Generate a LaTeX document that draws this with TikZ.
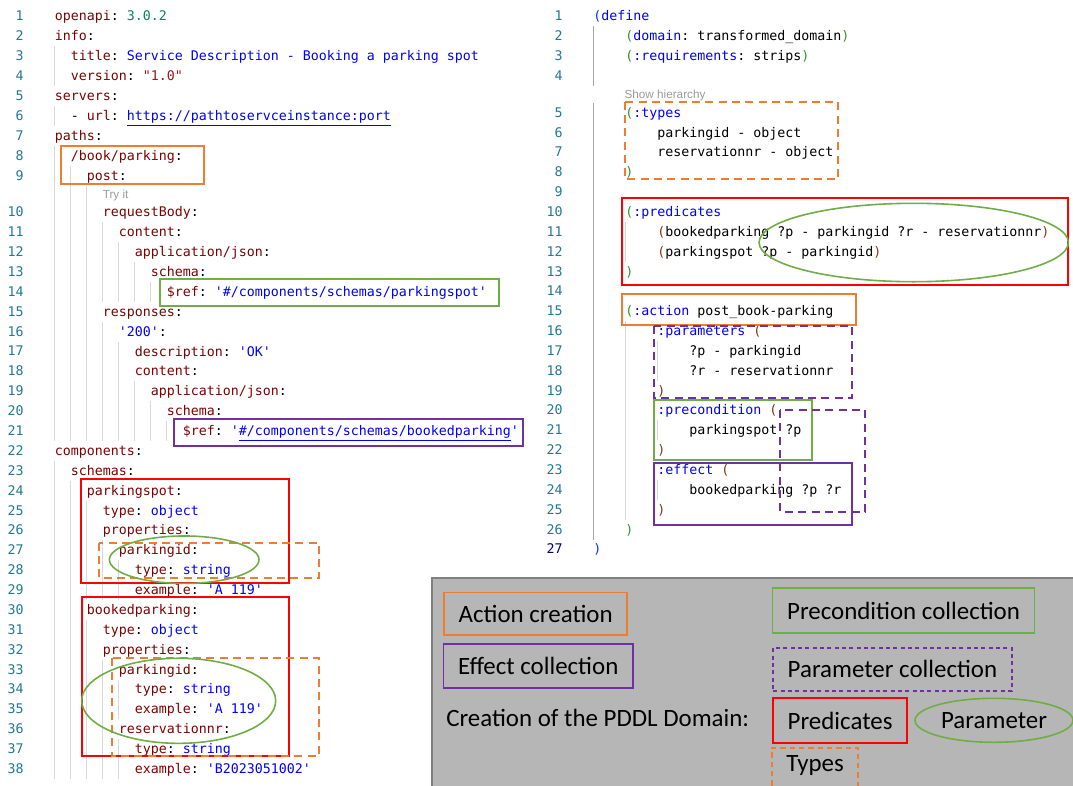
\documentclass[tikz,border=0pt]{standalone}
\usepackage{fontspec}
\usetikzlibrary{shapes.geometric}
\setmonofont{DejaVu Sans Mono}
\newfontfamily\legfamily{Carlito}
\newfontfamily\uifont{Liberation Sans}
\newcommand{\codesize}{\fontsize{9.97}{12}\selectfont}
\newcommand{\legfont}{\legfamily\fontsize{18.7}{22}\selectfont}

\definecolor{ykey}{HTML}{800000}
\definecolor{yval}{HTML}{0000FF}
\definecolor{ystr}{HTML}{A31515}
\definecolor{ynum}{HTML}{098658}
\definecolor{lncol}{HTML}{237893}
\definecolor{bra}{HTML}{0431FA}
\definecolor{brb}{HTML}{319331}
\definecolor{brc}{HTML}{7B3814}
\definecolor{hintgray}{HTML}{9A9A9A}
\definecolor{guidegray}{HTML}{D9D9D9}
\definecolor{porange}{HTML}{ED7D31}
\definecolor{pgreen}{HTML}{70AD47}
\definecolor{ppurple}{HTML}{7030A0}
\definecolor{pred}{HTML}{FF0000}
\definecolor{leggray}{HTML}{B6B6B6}

% yaml and pddl colouring
\newcommand{\yk}[1]{\textcolor{ykey}{#1}}
\newcommand{\yv}[1]{\textcolor{yval}{#1}}
\newcommand{\pk}[1]{\textcolor{yval}{#1}}
\newcommand{\bA}[1]{\textcolor{bra}{#1}}
\newcommand{\bB}[1]{\textcolor{brb}{#1}}
\newcommand{\bC}[1]{\textcolor{brc}{#1}}

\begin{document}
\begin{tikzpicture}[x=0.75pt,y=-0.75pt,
    code/.style={anchor=base west,inner sep=0pt,font=\codesize\ttfamily},
    lnum/.style={anchor=base east,inner sep=0pt,font=\codesize\ttfamily,text=lncol},
    hint/.style={anchor=base west,inner sep=0pt,font=\uifont\fontsize{8.8}{10}\selectfont,text=hintgray},
    guide/.style={draw=guidegray,line width=0.75pt},
    hl/.style={line width=1.5pt},
    hldash/.style={hl,dash pattern=on 6pt off 4pt},
    legbox/.style={draw,line width=1.3pt,font=\legfont,inner xsep=10.9pt,minimum height=33pt,anchor=west}]

    \useasboundingbox (0,0) rectangle (1073,785);

    % indent guides
    \foreach \x/\a/\b in {54.5/46/86, 54.5/106/126, 54.5/146/440.9, 54.5/460.8/778.9,
                          70.5/166/440.9, 70.5/480.7/778.9,
                          86.5/186/440.9, 86.5/500.6/600, 86.5/619.8/778.9,
                          102.5/222.2/301.8, 102.5/321.6/440.9, 102.5/540.3/600, 102.5/659.6/778.9,
                          118.5/242.1/301.8, 118.5/341.5/440.9, 118.5/560.2/600, 118.5/679.5/719.2, 118.5/739.1/778.9,
                          134.5/262/301.8, 134.5/381.3/440.9,
                          150.5/281.9/301.8, 150.5/401.2/440.9,
                          166.5/421/440.9,
                          625/221.9/261.6, 625/321.1/519.6,
                          657/341/380.7, 657/420.4/440.2, 657/480/499.8}
        \draw[guide] (\x,\a) -- (\x,\b);
    \draw[guide,draw=gray!70] (593,25.9) -- (593,85.5);
    \draw[guide,draw=gray!70] (593,102.8) -- (593,539.5);

    % line numbers
    \foreach \n in {1,...,9} \node[lnum] (nl\n) at (24,{20.5+(\n-1)*20}) {\n};
    \foreach \n in {10,...,38} \node[lnum] (nl\n) at (24,{216.8+(\n-10)*19.88}) {\n};
    \foreach \n in {1,...,4} \node[lnum] (nr\n) at (563,{20.5+(\n-1)*19.85}) {\n};
    \foreach \n in {5,...,26} \node[lnum] (nr\n) at (563,{117.2+(\n-5)*19.85}) {\n};
    \node[lnum,text=blue!45!black] (nr27) at (563,553.9) {27};

    % openapi file
    \node[code] (l1) at (54.5,20.5) {\yk{openapi}: \textcolor{ynum}{3.0.2}};
    \node[code] (l2) at (54.5,40.5) {\yk{info}:};
    \node[code] (l3) at (70.5,60.5) {\yk{title}: \yv{Service Description - Booking a parking spot}};
    \node[code] (l4) at (70.5,80.5) {\yk{version}: \textcolor{ystr}{"1.0"}};
    \node[code] (l5) at (54.5,100.5) {\yk{servers}:};
    \node[code] (l6) at (70.5,120.5) {- \yk{url}: \yv{\underline{https://pathtoservceinstance:port}}};
    \node[code] (l7) at (54.5,140.5) {\yk{paths}:};
    \node[code] (l8) at (70.5,160.5) {\yk{/book/parking}:};
    \node[code] (l9) at (86.5,180.5) {\yk{post}:};
    \node[hint] (tryit) at (102.5,198) {Try it};
    \node[code] (l10) at (102.5,216.8) {\yk{requestBody}:};
    \node[code] (l11) at (118.5,236.7) {\yk{content}:};
    \node[code] (l12) at (134.5,256.6) {\yk{application/json}:};
    \node[code] (l13) at (150.5,276.4) {\yk{schema}:};
    \node[code] (l14) at (166.5,296.3) {\yk{\$ref}: \yv{'\#/components/schemas/parkingspot'}};
    \node[code] (l15) at (102.5,316.2) {\yk{responses}:};
    \node[code] (l16) at (118.5,336.1) {\yv{'200'}:};
    \node[code] (l17) at (134.5,356.0) {\yk{description}: \yv{'OK'}};
    \node[code] (l18) at (134.5,375.8) {\yk{content}:};
    \node[code] (l19) at (150.5,395.7) {\yk{application/json}:};
    \node[code] (l20) at (166.5,415.6) {\yk{schema}:};
    \node[code] (l21) at (182.5,435.5) {\yk{\$ref}: \yv{'\underline{\#/components/schemas/bookedparking}'}};
    \node[code] (l22) at (54.5,455.4) {\yk{components}:};
    \node[code] (l23) at (70.5,475.2) {\yk{schemas}:};
    \node[code] (l24) at (86.5,495.1) {\yk{parkingspot}:};
    \node[code] (l25) at (102.5,515.0) {\yk{type}: \yv{object}};
    \node[code] (l26) at (102.5,534.9) {\yk{properties}:};
    \node[code] (l27) at (118.5,554.8) {\yk{parkingid}:};
    \node[code] (l28) at (134.5,574.6) {\yk{type}: \yv{string}};
    \node[code] (l29) at (134.5,594.5) {\yk{example}: \yv{'A 119'}};
    \node[code] (l30) at (86.5,614.4) {\yk{bookedparking}:};
    \node[code] (l31) at (102.5,634.3) {\yk{type}: \yv{object}};
    \node[code] (l32) at (102.5,654.2) {\yk{properties}:};
    \node[code] (l33) at (118.5,674.0) {\yk{parkingid}:};
    \node[code] (l34) at (134.5,693.9) {\yk{type}: \yv{string}};
    \node[code] (l35) at (134.5,713.8) {\yk{example}: \yv{'A 119'}};
    \node[code] (l36) at (118.5,733.7) {\yk{reservationnr}:};
    \node[code] (l37) at (134.5,753.6) {\yk{type}: \yv{string}};
    \node[code] (l38) at (134.5,773.4) {\yk{example}: \yv{'B2023051002'}};

    % pddl domain
    \node[code] (r1) at (593,20.5) {\bA{(}\pk{define}};
    \node[code] (r2) at (625,40.35) {\bB{(}\pk{domain}: transformed\_domain\bB{)}};
    \node[code] (r3) at (625,60.2) {\bB{(}\pk{:requirements}: strips\bB{)}};
    \node[hint] (hier) at (624.3,98) {Show hierarchy};
    \node[code] (r5) at (625,117.2) {\bB{(}\pk{:types}};
    \node[code] (r6) at (657,137.05) {parkingid - object};
    \node[code] (r7) at (657,156.9) {reservationnr - object};
    \node[code] (r8) at (625,176.75) {\bB{)}};
    \node[code] (r10) at (625,216.45) {\bB{(}\pk{:predicates}};
    \node[code] (r11) at (657,236.3) {\bC{(}bookedparking ?p - parkingid ?r - reservationnr\bC{)}};
    \node[code] (r12) at (657,256.15) {\bC{(}parkingspot ?p - parkingid\bC{)}};
    \node[code] (r13) at (625,276.0) {\bB{)}};
    \node[code] (r15) at (625,315.7) {\bB{(}\pk{:action} post\_book-parking};
    \node[code] (r16) at (657,335.55) {\pk{:parameters} \bC{(}};
    \node[code] (r17) at (689,355.4) {?p - parkingid};
    \node[code] (r18) at (689,375.25) {?r - reservationnr};
    \node[code] (r19) at (657,395.1) {\bC{)}};
    \node[code] (r20) at (657,414.95) {\pk{:precondition} \bC{(}};
    \node[code] (r21) at (689,434.8) {parkingspot ?p};
    \node[code] (r22) at (657,454.65) {\bC{)}};
    \node[code] (r23) at (657,474.5) {\pk{:effect} \bC{(}};
    \node[code] (r24) at (689,494.35) {bookedparking ?p ?r};
    \node[code] (r25) at (657,514.2) {\bC{)}};
    \node[code] (r26) at (625,534.05) {\bB{)}};
    \node[code] (r27) at (593,553.9) {\bA{)}};

    % highlights on the openapi file
    \draw[hl,porange] (61,146) rectangle (204.3,184.3);
    \draw[hl,pgreen] (160,279) rectangle (499,305.7);
    \draw[hl,ppurple] (174,419) rectangle (522.7,446);
    \draw[hl,pred] (80.7,479) rectangle (288.7,582.7);
    \draw[hldash,porange] (99.3,542.7) rectangle (319,578.3);
    \draw[hl,pgreen,line width=1.2pt] (184.2,559.7) ellipse [x radius=56.1pt, y radius=17.8pt];
    \draw[hl,pred] (81.7,596.7) rectangle (288.7,755.7);
    \draw[hldash,porange] (111.7,658.3) rectangle (319,755.7);
    \draw[hl,pgreen,line width=1.2pt] (178.7,700.8) ellipse [x radius=72.75pt, y radius=31.9pt];

    % highlights on the pddl domain
    \draw[hldash,porange] (625,101.7) rectangle (838.3,179.3);
    \draw[hl,pred] (621.7,198.3) rectangle (1068.3,285);
    \draw[hl,pgreen,line width=1.2pt] (913.7,242.5) ellipse [x radius=116pt, y radius=29.4pt];
    \draw[hl,porange] (622.3,294.3) rectangle (855.7,325);
    \draw[hldash,ppurple] (654,325.7) rectangle (851.7,398.3);
    \draw[hl,pgreen] (654,400) rectangle (811.7,460);
    \draw[hldash,ppurple] (780,410) rectangle (865,511.7);
    \draw[hl,ppurple] (654,462.7) rectangle (852.3,525);

    % legend
    \draw[fill=leggray,draw=gray,line width=1.5pt] (432.3,577.5) rectangle (1080,792);
    \node[legbox,draw=porange,minimum height=32pt] (act) at (443.3,613.7) {Action creation};
    \node[legbox,draw=ppurple] (eff) at (442.7,666) {Effect collection};
    \node[anchor=west,inner sep=0pt,font=\legfont] (creation) at (446,718.3) {Creation of the PDDL Domain:};
    \node[legbox,draw=pgreen,minimum height=33.3pt] (pre) at (771.7,610.5) {Precondition collection};
    \node[legbox,draw=ppurple,minimum height=32.3pt,dash pattern=on 3pt off 2.5pt] (parcol) at (772.3,669.2) {Parameter collection};
    \node[legbox,draw=pred,minimum height=33.3pt] (preds) at (772.3,720.5) {Predicates};
    \node[ellipse,draw=pgreen,line width=1.2pt,font=\legfont,minimum width=118.5pt,minimum height=33pt,inner sep=0pt] (parm) at (994,720.3) {Parameter};
    \draw[line width=1.3pt,porange,dash pattern=on 4pt off 3pt] (771.7,795) -- (771.7,747.7) -- (858.3,747.7) -- (858.3,795);
    \node[anchor=west,inner sep=0pt,font=\legfont] (types) at (786,765) {Types};
\end{tikzpicture}
\end{document}
